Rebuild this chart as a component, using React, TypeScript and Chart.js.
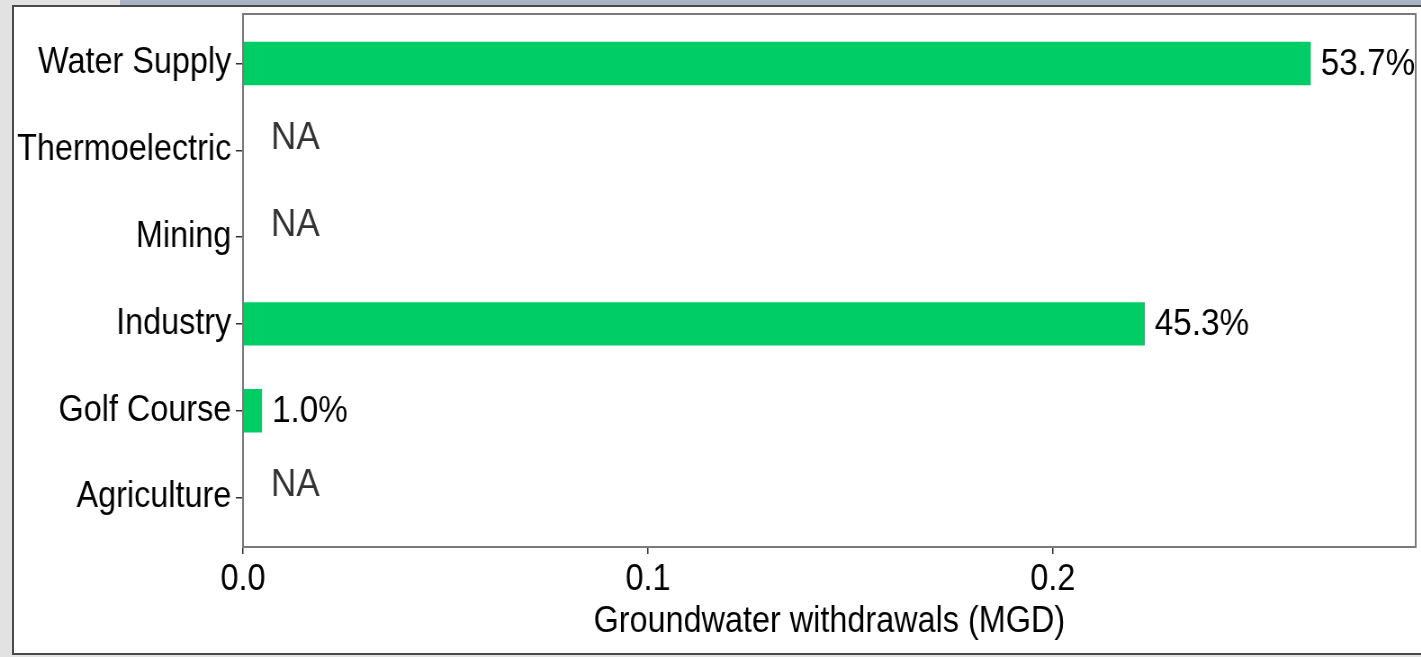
import React, { useEffect, useRef } from "react";
import { Chart, registerables } from "chart.js";

Chart.register(...registerables);

// Categories from top to bottom
const categories: string[] = [
  "Water Supply",
  "Thermoelectric",
  "Mining",
  "Industry",
  "Golf Course",
  "Agriculture",
];

// Groundwater withdrawals (MGD); null = NA
const withdrawals: (number | null)[] = [0.2637, null, null, 0.2227, 0.0047, null];

// Share labels
const shareLabels: string[] = ["53.7%", "NA", "NA", "45.3%", "1.0%", "NA"];

// X-axis ticks
const xTicks: number[] = [0, 0.1, 0.2];

const X_MAX = 0.2896;
const SX = 0.9; // horizontal condensing of the rendered picture
const LOGICAL_W = 1579;
const H = 657;
const FONT = '"Liberation Sans", Arial, sans-serif';

const panelPlugin = {
  id: "panelAndLabels",
  afterDraw(chart: any) {
    const { ctx, chartArea, scales } = chart;
    const x = scales.x;
    const y = scales.y;
    ctx.save();
    ctx.strokeStyle = "#7a7a7a";
    ctx.lineWidth = 2;
    ctx.strokeRect(
      chartArea.left,
      chartArea.top,
      chartArea.right - chartArea.left,
      chartArea.bottom - chartArea.top
    );
    ctx.textAlign = "left";
    ctx.textBaseline = "middle";
    categories.forEach((_, i) => {
      const v = withdrawals[i];
      const yc = y.getPixelForValue(i);
      if (v == null) {
        ctx.font = `39px ${FONT}`;
        ctx.fillStyle = "#333333";
        ctx.fillText(shareLabels[i], x.getPixelForValue(0) + 31, yc - 12);
      } else {
        ctx.font = `37px ${FONT}`;
        ctx.fillStyle = "#000000";
        ctx.fillText(shareLabels[i], x.getPixelForValue(v) + 11, yc + 1);
      }
    });
    ctx.restore();
  },
};

export default function App() {
  const canvasRef = useRef<HTMLCanvasElement | null>(null);

  useEffect(() => {
    if (!canvasRef.current) return;
    const chart = new Chart(canvasRef.current, {
      type: "bar",
      data: {
        datasets: [
          {
            data: categories.map((_, i) => ({ x: withdrawals[i] as any, y: i })),
            backgroundColor: "#00CD66",
            borderWidth: 0,
            barPercentage: 0.5,
            categoryPercentage: 1,
          },
        ],
      },
      options: {
        indexAxis: "y",
        responsive: false,
        animation: false,
        events: [],
        layout: { padding: { left: 0, top: 14, right: 6, bottom: 0 } },
        plugins: {
          legend: { display: false },
          tooltip: { enabled: false },
        },
        scales: {
          x: {
            type: "linear",
            position: "bottom",
            min: 0,
            max: X_MAX,
            offset: false,
            afterBuildTicks: (scale: any) => {
              scale.ticks = xTicks.map((v) => ({ value: v }));
            },
            afterFit: (scale: any) => {
              scale.height = 110;
              scale.paddingLeft = 0;
              scale.paddingRight = 0;
            },
            ticks: {
              color: "#000000",
              font: { family: FONT, size: 36 },
              padding: 4,
              maxRotation: 0,
              callback: (v: any) => Number(v).toFixed(1),
            },
            grid: {
              offset: false,
              drawOnChartArea: false,
              drawTicks: true,
              tickLength: 7,
              color: "#333333",
              lineWidth: 1.5,
            },
            border: { display: false },
            title: {
              display: true,
              text: "Groundwater withdrawals (MGD)",
              color: "#000000",
              font: { family: FONT, size: 36 },
              padding: { top: 0, bottom: 13 },
            },
          },
          y: {
            type: "linear",
            position: "left",
            reverse: true,
            min: -0.57,
            max: 5.57,
            offset: false,
            bounds: "data",
            afterBuildTicks: (scale: any) => {
              scale.ticks = categories.map((_, i) => ({ value: i }));
            },
            afterFit: (scale: any) => {
              scale.width = 270;
              scale.paddingTop = 0;
              scale.paddingBottom = 0;
            },
            ticks: {
              color: "#000000",
              font: { family: FONT, size: 36 },
              padding: 5,
              callback: (v: any) => categories[Math.round(Number(v))] ?? "",
            },
            grid: {
              offset: false,
              drawOnChartArea: false,
              drawTicks: true,
              tickLength: 8,
              color: "#333333",
              lineWidth: 1.5,
            },
            border: { display: false },
          },
        },
      },
      plugins: [panelPlugin],
    });
    return () => chart.destroy();
  }, []);

  return (
    <div
      style={{
        position: "absolute",
        left: 0,
        top: 0,
        width: 1421,
        height: H,
        overflow: "hidden",
        background: "#e2e2e2",
      }}
    >
      <div
        style={{
          position: "absolute",
          left: 120,
          top: 0,
          width: 1301,
          height: 6,
          background: "#a9b3c6",
        }}
      />
      <div
        style={{
          position: "absolute",
          left: 12,
          top: 5,
          width: 1420,
          height: 646,
          background: "#ffffff",
          border: "2px solid #4a4a4a",
        }}
      />
      <div
        style={{
          position: "absolute",
          left: 0,
          top: 0,
          width: LOGICAL_W,
          height: H,
          transform: `scaleX(${SX})`,
          transformOrigin: "0 0",
        }}
      >
        <canvas
          ref={canvasRef}
          width={LOGICAL_W}
          height={H}
          style={{ display: "block", width: LOGICAL_W, height: H }}
        />
      </div>
    </div>
  );
}
